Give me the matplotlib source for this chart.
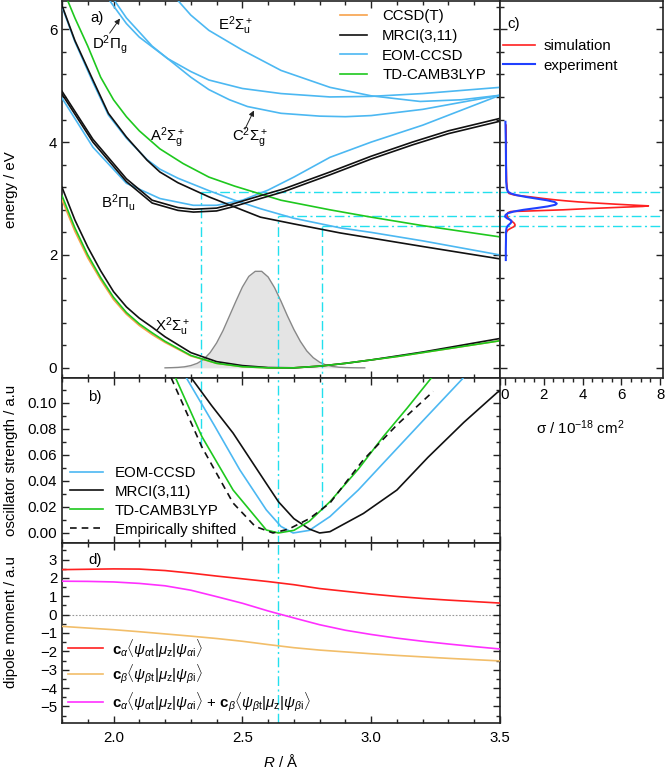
import numpy as np
import matplotlib
matplotlib.use('Agg')
import matplotlib.pyplot as plt
from matplotlib.ticker import MultipleLocator, FormatStrFormatter

plt.rcParams['font.family'] = ['Liberation Sans', 'DejaVu Sans']
plt.rcParams['mathtext.fontset'] = 'custom'
plt.rcParams['mathtext.rm'] = 'Liberation Sans'
plt.rcParams['mathtext.it'] = 'Liberation Sans:italic'
plt.rcParams['mathtext.bf'] = 'Liberation Sans:bold'
plt.rcParams['mathtext.sf'] = 'Liberation Sans'
plt.rcParams['font.size'] = 10.8

# ---------------- panel a: potential energy curves ----------------
R_X = [1.8, 1.85, 1.9, 1.95, 2.0, 2.05, 2.1, 2.15, 2.2, 2.3, 2.4, 2.5, 2.6, 2.7, 2.8, 2.9, 3.0, 3.1, 3.2, 3.3, 3.4, 3.5]
X_mrci = [3.2, 2.62, 2.14, 1.72, 1.35, 1.08, 0.88, 0.72, 0.55, 0.27, 0.11, 0.04, 0.005, 0.0, 0.03, 0.08, 0.14, 0.21, 0.28, 0.36, 0.44, 0.52]
X_cam = [3.05, 2.48, 2.0, 1.6, 1.25, 0.98, 0.78, 0.62, 0.47, 0.22, 0.08, 0.02, 0.0, 0.0, 0.03, 0.08, 0.14, 0.2, 0.27, 0.34, 0.41, 0.48]
X_ccsdt = [2.98, 2.42, 1.95, 1.56, 1.21, 0.95, 0.75, 0.59, 0.45, 0.21, 0.08, 0.02, 0.0, 0.0, 0.03, 0.08, 0.14, 0.2, 0.27, 0.34, 0.41, 0.48]

R_A = [1.8, 1.85, 1.92, 1.98, 2.05, 2.13, 2.18, 2.25, 2.37, 2.47, 2.57, 2.7, 2.88, 3.0, 3.2, 3.5]
A_mrci = [6.42, 5.8, 5.10, 4.51, 4.09, 3.68, 3.47, 3.28, 3.03, 2.85, 2.67, 2.55, 2.39, 2.30, 2.15, 1.93]
A_eom = [6.40, 5.78, 5.06, 4.48, 4.07, 3.69, 3.52, 3.36, 3.14, 2.97, 2.82, 2.65, 2.48, 2.40, 2.25, 2.00]
R_A_cam = [1.8, 1.85, 1.9, 1.95, 2.0, 2.05, 2.1, 2.18, 2.27, 2.37, 2.47, 2.57, 2.65, 2.84, 3.0, 3.2, 3.5]
A_cam = [6.75, 6.2, 5.7, 5.15, 4.75, 4.45, 4.2, 3.88, 3.62, 3.38, 3.22, 3.08, 2.97, 2.80, 2.67, 2.52, 2.32]

R_B = [1.8, 1.92, 2.05, 2.15, 2.25, 2.31, 2.40, 2.46, 2.57, 2.66, 2.84, 3.0, 3.16, 3.3, 3.5]
B_mrci_1 = [4.90, 4.05, 3.35, 2.97, 2.84, 2.81, 2.83, 2.90, 3.05, 3.17, 3.47, 3.75, 4.00, 4.20, 4.42]
B_mrci_2 = [4.85, 4.00, 3.30, 2.92, 2.79, 2.76, 2.78, 2.85, 3.00, 3.12, 3.42, 3.70, 3.95, 4.15, 4.37]
R_B_eom = [1.8, 1.92, 2.05, 2.18, 2.31, 2.40, 2.5, 2.6, 2.7, 2.84, 3.0, 3.2, 3.5]
B_eom = [4.78, 3.91, 3.27, 3.0, 2.88, 2.88, 2.97, 3.15, 3.38, 3.73, 4.0, 4.3, 4.83]

R_C = [1.99, 2.05, 2.1, 2.15, 2.21, 2.3, 2.37, 2.45, 2.52, 2.65, 2.8, 2.9, 3.0, 3.2, 3.5]
C_eom = [6.6, 6.2, 5.95, 5.7, 5.48, 5.15, 4.93, 4.75, 4.63, 4.51, 4.46, 4.45, 4.47, 4.58, 4.83]
R_D = [1.97, 2.05, 2.1, 2.21, 2.3, 2.37, 2.5, 2.65, 2.84, 3.0, 3.2, 3.5]
D_eom = [6.6, 6.1, 5.86, 5.48, 5.25, 5.1, 4.95, 4.86, 4.80, 4.81, 4.86, 4.97]
R_E = [2.24, 2.3, 2.37, 2.5, 2.65, 2.84, 3.0, 3.19, 3.35, 3.5]
E_eom = [6.56, 6.25, 5.98, 5.63, 5.27, 4.97, 4.82, 4.72, 4.75, 4.83]

# ground-state nuclear density (grey)
R_psi = [2.2, 2.225, 2.25, 2.275, 2.3, 2.325, 2.35, 2.375, 2.4, 2.425, 2.45, 2.475, 2.5, 2.525, 2.55,
         2.575, 2.6, 2.625, 2.65, 2.675, 2.7, 2.725, 2.75, 2.775, 2.8, 2.825, 2.85, 2.875, 2.9, 2.925, 2.95, 2.975]
psi = [0.0, 0.003, 0.008, 0.018, 0.04, 0.08, 0.15, 0.27, 0.44, 0.66, 0.92, 1.18, 1.43, 1.62, 1.71,
       1.71, 1.61, 1.42, 1.18, 0.92, 0.68, 0.47, 0.30, 0.18, 0.10, 0.05, 0.025, 0.011, 0.005, 0.002, 0.0, 0.0]

# vertical transitions
trans_R = [2.34, 2.64, 2.81]
trans_E = [3.12, 2.69, 2.51]
trans_f_end = [0.066, -1.0, 0.018]

# ---------------- panel b: oscillator strengths ----------------
R_f_eom = [2.26, 2.283, 2.39, 2.49, 2.593, 2.65, 2.697, 2.76, 2.84, 2.95, 3.047, 3.20, 3.351, 3.38]
f_eom = [0.127, 0.119, 0.083, 0.0485, 0.0177, 0.005, 0.0, 0.002, 0.0126, 0.033, 0.0536, 0.086, 0.1177, 0.124]
R_f_mrci = [2.28, 2.302, 2.38, 2.464, 2.593, 2.64, 2.70, 2.76, 2.80, 2.84, 2.97, 3.10, 3.22, 3.36, 3.49, 3.5]
f_mrci = [0.125, 0.119, 0.098, 0.0767, 0.038, 0.024, 0.011, 0.003, 0.0, 0.001, 0.015, 0.033, 0.058, 0.085, 0.108, 0.109]
R_f_cam = [2.22, 2.241, 2.343, 2.464, 2.593, 2.64, 2.70, 2.76, 2.84, 2.95, 3.047, 3.14, 3.228, 3.25]
f_cam = [0.128, 0.119, 0.074, 0.033, 0.0023, 0.0, 0.002, 0.009, 0.024, 0.049, 0.074, 0.096, 0.1177, 0.123]
R_f_shift = [2.224, 2.343, 2.464, 2.55, 2.619, 2.68, 2.76, 2.84, 2.969, 3.10, 3.241]
f_shift = [0.119, 0.066, 0.023, 0.005, 0.0, 0.003, 0.011, 0.023, 0.056, 0.083, 0.1087]

# ---------------- panel c: cross sections ----------------
E_sim = [4.30, 4.00, 3.60, 3.30, 3.15, 3.09, 3.06, 3.03, 3.00, 2.98, 2.96, 2.94, 2.92, 2.90, 2.88, 2.87, 2.86,
         2.84, 2.82, 2.80, 2.78, 2.77, 2.75, 2.72, 2.68, 2.64, 2.60, 2.56, 2.53, 2.50, 2.47, 2.44, 2.40, 2.35]
sig_sim = [0.05, 0.06, 0.06, 0.08, 0.12, 0.2, 0.5, 1.3, 2.0, 2.5, 3.1, 3.8, 4.7, 5.7, 6.8, 7.4, 7.1,
           5.6, 4.2, 3.0, 1.3, 0.3, 0.15, 0.1, 0.12, 0.2, 0.35, 0.48, 0.52, 0.45, 0.28, 0.14, 0.07, 0.05]
E_exp = [4.36, 4.00, 3.60, 3.30, 3.18, 3.12, 3.09, 3.06, 3.03, 3.00, 2.97, 2.94, 2.91, 2.89, 2.86, 2.83,
         2.80, 2.77, 2.74, 2.71, 2.68, 2.65, 2.62, 2.59, 2.56, 2.52, 2.48, 2.44, 2.40, 2.30, 2.10, 1.91]
sig_exp = [0.02, 0.04, 0.05, 0.06, 0.09, 0.15, 0.3, 0.6, 1.05, 1.6, 2.15, 2.55, 2.67, 2.6, 2.2, 1.6,
           0.95, 0.45, 0.15, 0.03, 0.0, 0.1, 0.28, 0.34, 0.28, 0.15, 0.08, 0.06, 0.05, 0.05, 0.04, 0.04]

# ---------------- panel d: dipole moments ----------------
R_d = [1.8, 1.9, 2.0, 2.1, 2.2, 2.3, 2.4, 2.5, 2.6, 2.7, 2.8, 2.9, 3.0, 3.1, 3.2, 3.3, 3.4, 3.5]
mu_alpha = [2.45, 2.47, 2.49, 2.48, 2.40, 2.26, 2.10, 1.95, 1.80, 1.63, 1.42, 1.27, 1.12, 0.99, 0.88, 0.79, 0.71, 0.63]
mu_beta = [-0.64, -0.73, -0.82, -0.93, -1.05, -1.17, -1.30, -1.45, -1.63, -1.80, -1.93, -2.03, -2.13, -2.22, -2.30, -2.38, -2.45, -2.52]
mu_sum = [1.82, 1.81, 1.78, 1.70, 1.57, 1.33, 0.98, 0.62, 0.20, -0.18, -0.55, -0.85, -1.08, -1.28, -1.45, -1.60, -1.74, -1.87]

# ---------------- styling ----------------
c_ccsdt = '#f7a24b'
c_mrci = '#111111'
c_eom = '#4cb8f2'
c_cam = '#1ec81e'
c_cyan = '#22e0ee'
dashdot = (0, (7, 2.5, 1.5, 2.5))
lw = 1.2

W, H = 666, 769
fig = plt.figure(figsize=(W / 100, H / 100), dpi=100)

def rect(l, r, t, b):
    return [l / W, 1 - b / H, (r - l) / W, (b - t) / H]

axA = fig.add_axes(rect(62, 500, 1, 378))
axC = fig.add_axes(rect(500, 663, 1, 378))
axB = fig.add_axes(rect(62, 500, 378, 543))
axD = fig.add_axes(rect(62, 500, 543, 723))

for ax in (axA, axB, axC, axD):
    for s in ax.spines.values():
        s.set_linewidth(1.2)
        s.set_color('#222222')
    ax.tick_params(which='both', direction='in', top=True, right=True, width=1.0, color='#222222')
    ax.tick_params(which='major', length=5)
    ax.tick_params(which='minor', length=3)

# ---- panel a ----
axA.fill_between(R_psi, 0, psi, color='#e4e4e4', lw=0, zorder=1)
axA.plot(R_psi, psi, color='#888888', lw=1.0, zorder=1.5)

for Rt, Et in zip(trans_R, trans_E):
    axA.plot([Rt, Rt], [-1, Et], color=c_cyan, lw=1.0, ls=dashdot, zorder=2)
    axA.plot([Rt, 3.6], [Et, Et], color=c_cyan, lw=1.0, ls=dashdot, zorder=2)

axA.plot(R_E, E_eom, color=c_eom, lw=lw, zorder=3)
axA.plot(R_D, D_eom, color=c_eom, lw=lw, zorder=3)
axA.plot(R_C, C_eom, color=c_eom, lw=lw, zorder=3)
axA.plot(R_B_eom, B_eom, color=c_eom, lw=lw, zorder=3)
axA.plot(R_A, A_eom, color=c_eom, lw=lw, zorder=3)
axA.plot(R_A_cam, A_cam, color=c_cam, lw=lw, zorder=3)
axA.plot(R_B, B_mrci_1, color=c_mrci, lw=lw, zorder=4)
axA.plot(R_B, B_mrci_2, color=c_mrci, lw=lw, zorder=4)
axA.plot(R_A, A_mrci, color=c_mrci, lw=lw, zorder=4)
axA.plot(R_X, X_ccsdt, color=c_ccsdt, lw=lw, zorder=4, label='CCSD(T)')
axA.plot(R_X, X_mrci, color=c_mrci, lw=lw, zorder=4, label='MRCI(3,11)')
axA.plot([], [], color=c_eom, lw=lw, label='EOM-CCSD')
axA.plot(R_X, X_cam, color=c_cam, lw=lw, zorder=4.5, label='TD-CAMB3LYP')

axA.set_xlim(1.8, 3.5)
axA.set_ylim(-0.18, 6.5)
axA.xaxis.set_major_locator(MultipleLocator(0.5))
axA.xaxis.set_minor_locator(MultipleLocator(0.1))
axA.yaxis.set_major_locator(MultipleLocator(2))
axA.yaxis.set_minor_locator(MultipleLocator(0.4))
axA.tick_params(labelbottom=False)
axA.set_ylabel('energy / eV')
axA.yaxis.set_label_coords(-0.1, 0.5)

leg = axA.legend(loc='upper left', bbox_to_anchor=(0.635, 0.978), frameon=False, borderpad=0,
                 borderaxespad=0, handlelength=1.8, handletextpad=1.0, labelspacing=0.38)

axA.text(0.064, 0.955, 'a)', transform=axA.transAxes, ha='left', va='center')
axA.text(0.068, 0.885, r'D$^2$Π$_\mathrm{g}$', transform=axA.transAxes, ha='left', va='center')
axA.text(0.356, 0.934, r'E$^2$Σ$_\mathrm{u}^+$', transform=axA.transAxes, ha='left', va='center')
axA.text(0.20, 0.638, r'A$^2$Σ$_\mathrm{g}^+$', transform=axA.transAxes, ha='left', va='center')
axA.text(0.388, 0.638, r'C$^2$Σ$_\mathrm{g}^+$', transform=axA.transAxes, ha='left', va='center')
axA.text(0.09, 0.466, r'B$^2$Π$_\mathrm{u}$', transform=axA.transAxes, ha='left', va='center')
axA.text(0.212, 0.135, r'X$^2$Σ$_\mathrm{u}^+$', transform=axA.transAxes, ha='left', va='center')
axA.annotate('', xy=(2.025, 6.19), xytext=(1.985, 5.93),
             arrowprops=dict(arrowstyle='-|>', color='#222222', lw=0.7, mutation_scale=8,
                             shrinkA=0, shrinkB=0))
axA.annotate('', xy=(2.545, 4.56), xytext=(2.51, 4.23),
             arrowprops=dict(arrowstyle='-|>', color='#222222', lw=0.7, mutation_scale=8,
                             shrinkA=0, shrinkB=0))

# ---- panel c ----
for Et in trans_E:
    axC.axhline(Et, color=c_cyan, lw=1.0, ls=dashdot, zorder=2)
axC.plot(sig_sim, E_sim, color='#ff2020', lw=lw, label='simulation', zorder=3)
axC.plot(sig_exp, E_exp, color='#2040ff', lw=1.5, label='experiment', zorder=4)
axC.set_xlim(-0.26, 8.15)
axC.set_ylim(-0.18, 6.5)
axC.xaxis.set_major_locator(MultipleLocator(2))
axC.xaxis.set_minor_locator(MultipleLocator(0.5))
axC.yaxis.set_major_locator(MultipleLocator(2))
axC.yaxis.set_minor_locator(MultipleLocator(0.4))
axC.tick_params(labelleft=False)
axC.tick_params(axis='x', which='both', direction='out', top=False)
axC.tick_params(axis='x', which='major', pad=2)
axC.set_xlabel(r'σ / 10$^{-18}$ cm$^2$')
axC.xaxis.set_label_coords(0.49, -0.108)
axC.text(0.045, 0.94, 'c)', transform=axC.transAxes, ha='left', va='center')
axC.legend(loc='upper left', bbox_to_anchor=(0.02, 0.898), frameon=False, borderpad=0,
           borderaxespad=0, handlelength=2.1, handletextpad=0.6, labelspacing=0.35)

# ---- panel b ----
for Rt, ft in zip(trans_R, trans_f_end):
    axB.plot([Rt, Rt], [ft, 0.2], color=c_cyan, lw=1.0, ls=dashdot, zorder=2)
axB.plot(R_f_eom, f_eom, color=c_eom, lw=lw, label='EOM-CCSD', zorder=3)
axB.plot(R_f_mrci, f_mrci, color=c_mrci, lw=lw, label='MRCI(3,11)', zorder=3)
axB.plot(R_f_cam, f_cam, color=c_cam, lw=lw, label='TD-CAMB3LYP', zorder=3)
axB.plot(R_f_shift, f_shift, color=c_mrci, lw=lw, ls=(0, (4, 3)), label='Empirically shifted', zorder=3)
axB.set_xlim(1.8, 3.5)
axB.set_ylim(-0.0077, 0.119)
axB.xaxis.set_major_locator(MultipleLocator(0.5))
axB.xaxis.set_minor_locator(MultipleLocator(0.1))
axB.yaxis.set_major_locator(MultipleLocator(0.02))
axB.yaxis.set_minor_locator(MultipleLocator(0.01))
axB.yaxis.set_major_formatter(FormatStrFormatter('%.2f'))
axB.tick_params(labelbottom=False)
axB.set_ylabel('oscillator strength / a.u')
axB.yaxis.set_label_coords(-0.1, 0.5)
axB.text(0.06, 0.885, 'b)', transform=axB.transAxes, ha='left', va='center')
axB.legend(loc='upper left', bbox_to_anchor=(0.018, 0.468), frameon=False, borderpad=0,
           borderaxespad=0, handlelength=2.2, handletextpad=0.8, labelspacing=0.33)

# ---- panel d ----
axD.axhline(0, color='#999999', lw=0.8, ls=(0, (1.5, 1.5)), zorder=1)
axD.axvline(trans_R[1], color=c_cyan, lw=1.0, ls=dashdot, zorder=2)
axD.plot(R_d, mu_alpha, color='#ff2020', lw=lw, zorder=3,
         label=r'$\mathbf{c}_\alpha\langle\psi_{\alpha\mathrm{t}}|\mu_\mathrm{z}|\psi_{\alpha\mathrm{i}}\rangle$')
axD.plot(R_d, mu_beta, color='#f2be6a', lw=lw, zorder=3,
         label=r'$\mathbf{c}_\beta\langle\psi_{\beta\mathrm{t}}|\mu_\mathrm{z}|\psi_{\beta\mathrm{i}}\rangle$')
axD.plot(R_d, mu_sum, color='#ff30ff', lw=lw, zorder=3,
         label=r'$\mathbf{c}_\alpha\langle\psi_{\alpha\mathrm{t}}|\mu_\mathrm{z}|\psi_{\alpha\mathrm{i}}\rangle$ + '
               r'$\mathbf{c}_\beta\langle\psi_{\beta\mathrm{t}}|\mu_\mathrm{z}|\psi_{\beta\mathrm{i}}\rangle$')
axD.set_xlim(1.8, 3.5)
axD.set_ylim(-5.9, 3.9)
axD.xaxis.set_major_locator(MultipleLocator(0.5))
axD.xaxis.set_minor_locator(MultipleLocator(0.1))
axD.xaxis.set_major_formatter(FormatStrFormatter('%.1f'))
axD.yaxis.set_major_locator(MultipleLocator(1))
axD.yaxis.set_minor_locator(MultipleLocator(0.5))
axD.tick_params(axis='x', which='major', pad=6)
axD.set_ylabel('dipole moment / a.u')
axD.yaxis.set_label_coords(-0.1, 0.56)
axD.set_xlabel(r'$R$ / Å')
axD.xaxis.set_label_coords(0.5, -0.165)
axD.text(0.06, 0.905, 'd)', transform=axD.transAxes, ha='left', va='center')
axD.legend(loc='upper left', bbox_to_anchor=(0.014, 0.48), frameon=False, borderpad=0,
           borderaxespad=0, handlelength=2.3, handletextpad=0.6, labelspacing=0.28)

fig.savefig('out.png', dpi=100)
